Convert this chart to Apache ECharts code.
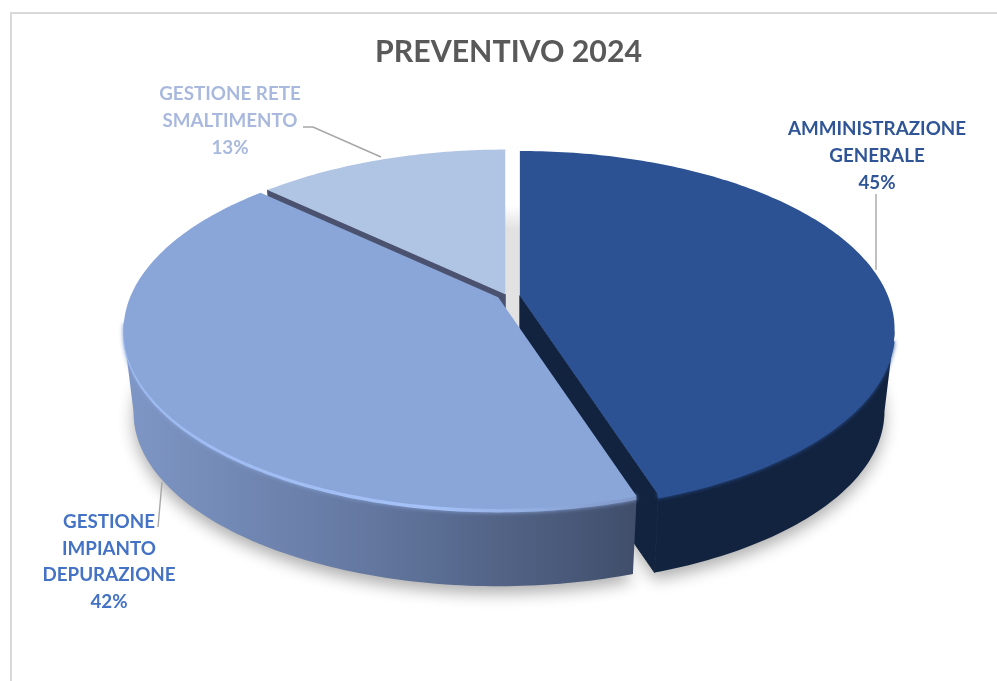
<!DOCTYPE html>
<html>
<head>
<meta charset="utf-8">
<style>html,body{margin:0;padding:0;background:#fff}#chart{width:997px;height:681px}</style>
<script src="https://cdn.jsdelivr.net/npm/echarts@6/dist/echarts.min.js"></script>
</head>
<body>
<div id="chart"></div>
<script>
// Budget shares, clockwise from twelve o'clock
const chartTitle = 'PREVENTIVO 2024';
const categories = ['AMMINISTRAZIONE\nGENERALE', 'GESTIONE\nIMPIANTO\nDEPURAZIONE', 'GESTIONE RETE\nSMALTIMENTO'];
const shares = [45, 42, 13];

// Per-slice look and layout
const explode = [10, 14, 12];
const paintRank = [1, 3, 2];
const topColors = ['#2c5293', '#8aa5d8', '#b0c4e3'];
const labelColors = ['#2f5597', '#4472c4', '#a9b9de'];
const labelCentres = [[877, 156], [109, 562], [230, 121]];
const leaders = [
  [[876, 194], [876, 270]],
  [[162, 482], [158, 527]],
  [[303, 127], [313, 127], [381, 157]]
];

// Tilted disc: circle angle to screen position, with a perspective term
const centre = [510, 296];
const radiusX = 368, radiusY = 172, perspective = 0.188;
const depth = 83, floorScale = 0.973;
const explodeSquash = 0.15;

// Angles where the rim turns from the back half of the disc to the front half
const frontStart = Math.acos(-perspective) * 180 / Math.PI;
const frontEnd = 360 - frontStart;

const total = shares.reduce((a, b) => a + b, 0);
const startAngles = [];
shares.reduce((acc, s, i) => { startAngles[i] = acc; return acc + s / total * 360; }, 0);

function apexOf(i) {
  const mid = (startAngles[i] + shares[i] / total * 180) * Math.PI / 180;
  return [
    centre[0] + explode[i] * Math.sin(mid),
    centre[1] - explode[i] * explodeSquash * Math.cos(mid)
  ];
}
function project(deg, apex, scale, drop) {
  const t = deg * Math.PI / 180;
  const u = Math.sin(t), v = -Math.cos(t), w = 1 - perspective * v;
  return [apex[0] + scale * radiusX * u / w, apex[1] + drop + scale * radiusY * v / w];
}
function arc(from, to, apex, scale, drop) {
  const pts = [], n = Math.max(2, Math.ceil(Math.abs(to - from)));
  for (let k = 0; k <= n; k++) pts.push(project(from + (to - from) * k / n, apex, scale, drop));
  return pts;
}
function hGrad(stops) {
  return { type: 'linear', x: 0, y: 0, x2: 1, y2: 0, colorStops: stops };
}

// Side wall fill and front bevel for each slice
const wallFills = [
  '#12233f',
  hGrad([{ offset: 0, color: '#7f97c6' }, { offset: 0.5, color: '#62769e' }, { offset: 1, color: '#404e6b' }]),
  '#4a5270'
];
const bevelSpans = [[104, 162], [162, 262], null];
const bevelColors = [
  '#2c5293',
  hGrad([{ offset: 0, color: '#9dbaf0' }, { offset: 0.6, color: '#a4c2f8' }, { offset: 1, color: '#8098c8' }]),
  null
];

function renderShadow(params, api) {
  const i = params.dataIndex, a0 = startAngles[i], a1 = a0 + api.value(0) / total * 360;
  const apex = apexOf(i);
  const floor = [[apex[0], apex[1] + depth]].concat(arc(a0, a1, apex, floorScale, depth));
  const children = [{
    type: 'polygon', shape: { points: floor },
    style: { fill: '#b9b9b9', shadowBlur: 16, shadowColor: 'rgba(0,0,0,0.32)', shadowOffsetY: 7 }
  }];
  // pale cast shadow seen through the gap between the slices, fading out upward
  if (i === shares.length - 1) {
    children.push({
      type: 'polygon', shape: { points: arc(0, 360, centre, 0.92, 43) },
      style: {
        fill: {
          type: 'linear', x: 0, y: 0, x2: 0, y2: 1,
          colorStops: [{ offset: 0, color: '#ffffff' }, { offset: 0.07, color: '#e2e2e2' }, { offset: 1, color: '#e2e2e2' }]
        }
      }
    });
  }
  return { type: 'group', children };
}

function renderSlice(params, api) {
  const i = params.dataIndex, value = api.value(0);
  const a0 = startAngles[i], a1 = a0 + value / total * 360;
  const apex = apexOf(i), base = paintRank[i] * 10;
  const topArc = arc(a0, a1, apex, 1, 0);
  const children = [];

  // curved outer wall: only the part on the front half of the disc can be seen
  const w0 = Math.max(a0, frontStart), w1 = Math.min(a1, frontEnd);
  if (w1 > w0) {
    children.push({
      type: 'polygon', z2: base,
      shape: { points: arc(w0, w1, apex, 1, 0).concat(arc(w0, w1, apex, floorScale, depth).reverse()) },
      style: { fill: wallFills[i] }
    });
  }
  // straight cut face on the side of the slice that looks toward the viewer
  if (i !== 1) {
    const faceAngle = i === 0 ? a1 : a0;
    const faceColor = i === 0 ? '#12233f' : '#4a5270';
    const faceTop = project(faceAngle, apex, 1, 0), faceFloor = project(faceAngle, apex, floorScale, depth);
    children.push({
      type: 'polygon', z2: base + 1,
      shape: { points: [apex, faceTop, faceFloor, [apex[0], apex[1] + depth]] },
      style: { fill: faceColor, stroke: faceColor, lineWidth: 1 }
    });
  }
  // top face
  children.push({
    type: 'polygon', z2: base + 3,
    shape: { points: [apex].concat(topArc) },
    style: { fill: topColors[i] }
  });
  // soft bevel along the front rim
  if (bevelSpans[i]) {
    children.push({
      type: 'polyline', z2: base + 2,
      shape: { points: arc(bevelSpans[i][0], bevelSpans[i][1], apex, 0.995, 2) },
      style: { fill: 'none', stroke: bevelColors[i], lineWidth: 5, shadowBlur: 4, shadowColor: i === 0 ? '#2c5293' : '#8aa5d8' }
    });
  }
  // leader line and value label
  children.push({
    type: 'polyline', z2: 90,
    shape: { points: leaders[i] },
    style: { fill: 'none', stroke: '#a6a6a6', lineWidth: 1.4 }
  });
  children.push({
    type: 'text', z2: 100,
    style: {
      text: categories[i] + '\n' + value + '%',
      x: labelCentres[i][0], y: labelCentres[i][1],
      align: 'center', verticalAlign: 'middle',
      fill: labelColors[i], font: 'bold 18.8px Lato', lineHeight: 26.6
    }
  });
  return { type: 'group', children };
}

const seriesData = shares.map((s, i) => ({ name: categories[i], value: [s, i] }));

const chart = echarts.init(document.getElementById('chart'), null, { renderer: 'canvas' });
chart.setOption({
  animation: false,
  backgroundColor: '#ffffff',
  title: {
    text: chartTitle, left: 370, top: 32,
    textStyle: { fontFamily: 'Lato', fontWeight: 'bold', fontSize: 30.3, color: '#595959' }
  },
  graphic: [{
    type: 'rect', silent: true, z: 0,
    shape: { x: 11, y: 13, width: 1010, height: 700 },
    style: { fill: 'none', stroke: '#d9d9d9', lineWidth: 2 }
  }],
  series: [
    { type: 'custom', coordinateSystem: 'none', z: 1, silent: true, renderItem: renderShadow, data: seriesData },
    { type: 'custom', coordinateSystem: 'none', z: 2, silent: true, renderItem: renderSlice, data: seriesData }
  ]
});
</script>
</body>
</html>
